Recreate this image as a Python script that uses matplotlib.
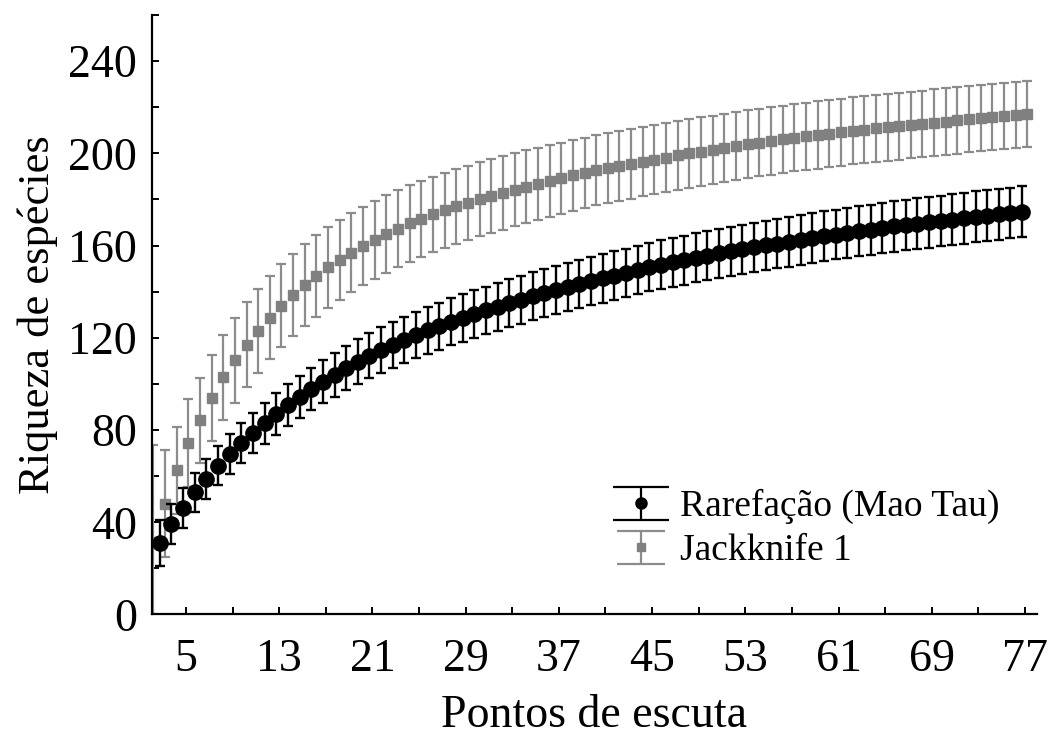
import numpy as np
import matplotlib
matplotlib.use("Agg")
import matplotlib.pyplot as plt
from matplotlib.lines import Line2D
from matplotlib.collections import LineCollection
from matplotlib.container import ErrorbarContainer
from matplotlib.legend_handler import HandlerErrorbar
from matplotlib.ticker import MultipleLocator, FixedLocator

# Rarefaction (Mao Tau), sampling points 3..77
mao_x = list(range(3, 78))
mao_y = [31.0, 39.2, 46.2, 53.0, 58.8, 64.6, 69.6, 74.2, 78.7, 83.0,
         87.0, 90.8, 94.4, 97.8, 101.0, 104.0, 106.9, 109.6, 112.2, 114.6,
         116.9, 119.1, 121.2, 123.2, 125.1, 126.9, 128.6, 130.3, 131.9, 133.5,
         135.0, 136.5, 138.0, 139.4, 140.8, 142.1, 143.4, 144.6, 145.8, 147.0,
         148.2, 149.4, 150.6, 151.7, 152.7, 153.7, 154.7, 155.7, 156.6, 157.5,
         158.4, 159.3, 160.1, 160.9, 161.7, 162.5, 163.2, 164.0, 164.8, 165.5,
         166.2, 166.9, 167.6, 168.3, 168.9, 169.5, 170.1, 170.7, 171.3, 171.9,
         172.5, 173.0, 173.5, 174.1, 174.7]
mao_sd = [10.1, 8.8, 8.5, 8.5, 8.5, 8.6, 8.6, 8.7, 8.8, 8.9,
          9.0, 9.1, 9.2, 9.3, 9.4, 9.5, 9.6, 9.7, 9.8, 9.9,
          10.0, 10.0, 10.1, 10.1, 10.2, 10.2, 10.3, 10.3, 10.3, 10.4,
          10.4, 10.4, 10.4, 10.5, 10.5, 10.5, 10.5, 10.5, 10.5, 10.5,
          10.5, 10.5, 10.5, 10.6, 10.6, 10.6, 10.6, 10.6, 10.7, 10.7,
          10.7, 10.7, 10.7, 10.8, 10.8, 10.8, 10.8, 10.8, 10.8, 10.9,
          10.9, 10.9, 10.9, 10.9, 10.9, 11.0, 11.0, 11.0, 11.0, 11.0,
          11.0, 11.0, 11.0, 11.0, 11.0]

# Jackknife 1, sampling points 2..77
jack_x = list(range(2, 78))
jack_y = [31.5, 48.1, 62.6, 74.5, 84.2, 94.0, 102.8, 110.3, 117.1, 122.9,
          128.7, 133.8, 138.5, 142.8, 146.8, 150.5, 153.9, 157.0, 159.9, 162.6,
          165.1, 167.4, 169.6, 171.6, 173.5, 175.3, 177.0, 178.6, 180.1, 181.5,
          182.8, 184.2, 185.5, 186.8, 188.0, 189.2, 190.4, 191.5, 192.6, 193.6,
          194.6, 195.5, 196.4, 197.3, 198.2, 199.1, 200.0, 200.8, 201.6, 202.4,
          203.2, 204.0, 204.7, 205.4, 206.1, 206.8, 207.4, 208.0, 208.6, 209.2,
          209.8, 210.3, 210.8, 211.3, 211.8, 212.3, 212.8, 213.3, 213.8, 214.3,
          214.8, 215.3, 215.7, 216.1, 216.6, 217.0]
jack_sd = [42.0, 23.1, 18.8, 19.0, 18.4, 18.6, 18.5, 18.4, 18.3, 18.2,
           18.1, 18.0, 17.9, 17.8, 17.6, 17.5, 17.3, 17.2, 17.0, 16.9,
           16.8, 16.7, 16.6, 16.5, 16.4, 16.3, 16.2, 16.1, 16.1, 16.0,
           16.0, 15.9, 15.8, 15.7, 15.6, 15.5, 15.4, 15.3, 15.2, 15.2,
           15.1, 15.1, 15.0, 15.0, 14.9, 14.9, 14.9, 14.8, 14.8, 14.8,
           14.7, 14.7, 14.7, 14.7, 14.6, 14.6, 14.6, 14.6, 14.6, 14.5,
           14.5, 14.5, 14.5, 14.5, 14.5, 14.5, 14.4, 14.4, 14.4, 14.4,
           14.4, 14.4, 14.4, 14.4, 14.4, 14.4]

x_labels = [5, 13, 21, 29, 37, 45, 53, 61, 69, 77]
series_names = ["Rarefação (Mao Tau)", "Jackknife 1"]

black = "#000000"
grey_marker = "#808080"
grey_bar = "#8c8c8c"

plt.rcParams["font.family"] = ["Liberation Serif", "DejaVu Serif"]

fig = plt.figure(figsize=(10.51, 7.40), dpi=100)
ax = fig.add_axes([0.1443, 0.1696, 0.8421, 0.8101])

# small horizontal dodge so the two series sit side by side
ax.errorbar(np.array(jack_x) + 0.2, jack_y, yerr=jack_sd, fmt="s", color=grey_marker,
            ecolor=grey_bar, ms=7.5, elinewidth=1.6, capsize=3.6, capthick=1.6, zorder=2)
ax.errorbar(np.array(mao_x) - 0.25, mao_y, yerr=mao_sd, fmt="o", color=black,
            ecolor=black, ms=11, elinewidth=1.7, capsize=3.6, capthick=1.7, zorder=3)

ax.set_xlim(2.06, 78.0)
ax.set_ylim(0, 260)

for side in ["top", "right"]:
    ax.spines[side].set_visible(False)
for side in ["left", "bottom"]:
    ax.spines[side].set_linewidth(1.6)

ax.xaxis.set_major_locator(FixedLocator(x_labels))
ax.xaxis.set_minor_locator(FixedLocator([9, 17, 25, 33, 41, 49, 57, 65, 73]))
ax.yaxis.set_major_locator(MultipleLocator(40))
ax.yaxis.set_minor_locator(MultipleLocator(20))
ax.tick_params(which="both", direction="in", length=5, width=1.4, colors=black)
ax.tick_params(axis="y", which="major", labelsize=33, pad=10.5)
ax.tick_params(axis="x", which="major", labelsize=33, pad=17)

ax.set_xlabel("Pontos de escuta", fontsize=33, labelpad=10)
ax.set_ylabel("Riqueza de espécies", fontsize=32, labelpad=7)

# legend handles with wide caps, like the original
def make_handle(color, bar_color, marker, ms, cap_ms):
    pl = Line2D([], [], color=color, marker=marker, ms=ms, ls="none")
    cap = Line2D([], [], color=bar_color, marker="_", ms=cap_ms, mew=1.6, ls="none")
    bars = LineCollection([], colors=bar_color, linewidths=1.6)
    return ErrorbarContainer((pl, (cap, cap), (bars,)), has_xerr=False, has_yerr=True)

handles = [make_handle(black, black, "o", 8, 40),
           make_handle(grey_marker, grey_bar, "s", 6, 34)]
ax.legend(handles, series_names, loc="upper left", bbox_to_anchor=(612 / 1051, 1 - 489 / 740),
          bbox_transform=fig.transFigure, frameon=False, fontsize=27, handlelength=1.55,
          handletextpad=0.27, labelspacing=0.25, borderpad=0, borderaxespad=0, numpoints=1,
          handler_map={ErrorbarContainer: HandlerErrorbar(yerr_size=0.44)})

fig.savefig("out.png", dpi=100)
